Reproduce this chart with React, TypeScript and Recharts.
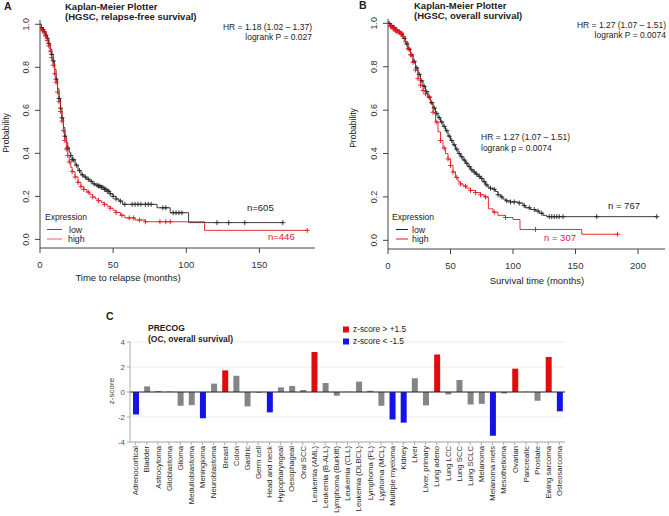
import React from 'react';
import {
  ComposedChart, Line, Scatter, XAxis, YAxis,
  BarChart, Bar, Cell, CartesianGrid, ReferenceLine,
} from 'recharts';

const FONT = '"Liberation Sans", Arial, Helvetica, sans-serif';
const KM_RED = '#e3191f';
const KM_BLACK = '#262626';

// Panel A: relapse-free survival, time (months) / probability
const rfsLowT = [0, 1, 2, 3, 4, 5, 6, 7, 8, 9, 10, 11, 12, 13, 14, 15, 16, 17, 18, 19, 20, 21, 22,
  24, 26, 28, 30, 32, 34, 36, 38, 40, 42, 44, 46, 48, 50, 52, 54, 56.5, 80, 89, 101.6, 166];
const rfsLowS = [1, .985, .975, .965, .95, .935, .91, .885, .86, .83, .79, .745, .70, .655, .61, .565, .52, .48, .45, .425, .405, .39, .37,
  .345, .32, .30, .29, .28, .27, .258, .252, .248, .242, .233, .224, .212, .20, .188, .178, .163, .147, .124, .078, .078];
const rfsLowCensor = [1, 2, 3, 4, 5, 6, 8, 9, 11, 13, 14, 15, 17, 19, 21, 22, 23, 25, 27, 29, 31, 33, 35, 37, 39, 40, 41, 42, 43,
  44, 45, 46, 47, 48, 50, 52, 55, 58, 63, 65, 67, 69, 72, 74, 76, 84, 86, 91, 93, 95, 97, 121, 129, 140, 166];

const rfsHighT = [0, 1, 2, 3, 4, 5, 6, 7, 8, 9, 10, 11, 12, 13, 14, 15, 16, 17, 18, 19, 20, 21, 22,
  24, 26, 28, 30, 32, 34, 36, 38, 40, 42, 44, 46, 48, 50, 52, 55, 58, 65, 72, 112.5, 182.7];
const rfsHighS = [1, .98, .97, .96, .945, .925, .90, .875, .845, .81, .77, .73, .685, .64, .595, .55, .505, .46, .42, .39, .36, .335, .315,
  .29, .265, .245, .232, .22, .208, .197, .188, .18, .172, .163, .154, .145, .135, .125, .112, .10, .09, .082, .042, .042];
const rfsHighCensor = [1, 2, 3, 4, 5, 6, 7, 8, 9, 10, 11, 12, 13, 14, 15, 16, 17, 18, 19, 20, 22, 24, 26, 28, 30, 33, 36, 40,
  44, 48, 52, 56, 61, 64, 68, 72, 82, 86, 89, 182.7];

// Panel B: overall survival
const osLowT = [0, 2, 4, 6, 8, 10, 12, 14, 16, 18, 20, 22, 24, 26, 28, 30, 32, 34, 36, 38, 40, 42, 44, 46, 48, 50, 52, 54, 56, 58,
  60, 62, 64, 66, 68, 70, 72, 74, 76, 78, 80, 82, 84, 86, 88, 90, 92, 94, 98, 104, 108, 110, 114, 118, 121, 124, 127, 215];
const osLowS = [1, .99, .98, .97, .96, .95, .93, .905, .88, .855, .825, .795, .765, .735, .71, .685, .66, .635, .61, .585,
  .565, .545, .525, .505, .48, .46, .44, .42, .40, .385, .37, .355, .34, .325, .315, .305, .295, .285, .27, .255,
  .245, .24, .235, .225, .21, .20, .19, .182, .177, .172, .16, .15, .142, .135, .125, .115, .109, .109];
const osLowCensor = [1, 3, 5, 7, 9, 11, 13, 15, 17, 19, 21, 23, 25, 27, 29, 31, 33, 35, 37, 39, 41, 43, 45, 47, 49, 51, 53, 55,
  57, 59, 61, 63, 65, 67, 69, 71, 73, 75, 77, 79, 82, 85, 88, 91, 95, 98, 101, 105, 109, 113, 117, 120, 123,
  129, 131, 133, 135, 137, 140, 167, 215];

const osHighT = [0, 2, 4, 6, 8, 10, 12, 14, 16, 18, 20, 22, 24, 26, 28, 30, 32, 34, 36, 38, 40, 42, 44, 46, 48, 50, 52, 54, 56, 58,
  60, 63, 66, 70, 74, 77, 80.3, 84, 88, 94, 100, 105.6, 155, 183.7];
const osHighS = [1, .985, .975, .965, .96, .955, .94, .915, .885, .855, .82, .785, .745, .715, .69, .675, .66, .63, .59, .545,
  .50, .46, .425, .40, .375, .345, .315, .29, .27, .26, .25, .24, .23, .22, .21, .20, .145, .13, .115, .105, .096, .05, .028, .028];
const osHighCensor = [2, 3, 4, 5, 6, 7, 8, 9, 10, 11, 12, 14, 16, 18, 20, 22, 24, 26, 28, 30, 33, 36, 39, 42, 45, 48, 50, 52,
  55, 58, 62, 66, 70, 74, 78, 85, 94, 118, 183.7];

// Panel C: PRECOG z-scores
const cancers = ['Adrenocortical', 'Bladder', 'Astrocytoma', 'Glioblastoma', 'Glioma', 'Medulloblastoma', 'Meningioma',
  'Neuroblastoma', 'Breast', 'Colon', 'Gastric', 'Germ cell', 'Head and neck', 'Hypopharyngeal', 'Oesophageal', 'Oral SCC',
  'Leukemia (AML)', 'Leukemia (B-ALL)', 'Lymphoma (Burkitt)', 'Leukemia (CLL)', 'Leukemia (DLBCL)', 'Lymphoma (FL)',
  'Lyphoma (MCL)', 'Multiple myeloma', 'Kidney', 'Liver', 'Liver, primary', 'Lung adeno', 'Lung LCC', 'Lung SCC',
  'Lung SCLC', 'Melanoma', 'Melanoma mets', 'Mesothelioma', 'Ovarian', 'Pancreatic', 'Prostate', 'Ewing sarcoma', 'Osteosarcoma'];
const zScores = [-1.8, 0.45, 0.08, 0.03, -1.1, -1.05, -2.1, 0.67, 1.73, 1.3, -1.15, -0.05, -1.63, 0.37, 0.48, 0.16,
  3.2, 0.72, -0.3, 0.02, 0.83, 0.1, -1.1, -2.2, -2.45, 1.1, -1.07, 3.0, -0.2, 0.96, -1.0, -0.95, -3.5, -0.12, 1.87,
  0.02, -0.7, 2.8, -1.55];

const steps = (t: number[], s: number[]) => t.map((v, i) => ({ t: v, s: s[i] }));
// censor marks sit on the KM curve at their time
const marks = (times: number[], t: number[], s: number[]) => times.map(c => {
  let i = 0;
  while (i + 1 < t.length && t[i + 1] <= c) i++;
  return { t: c, s: s[i] };
});

const cross = (color: string) => (p: any) => (
  <path d={`M${p.cx - 2.5},${p.cy}h5M${p.cx},${p.cy - 2.5}v5`} stroke={color} strokeWidth={0.9} fill="none" />
);

const ProbTick = (p: any) => {
  const x = p.x - 4;
  return (
    <text x={x} y={p.y} transform={`rotate(-90 ${x} ${p.y})`} textAnchor="middle"
      fontSize={9} fill="#333" fontFamily={FONT}>{Number(p.payload.value).toFixed(1)}</text>
  );
};

const CatTick = (p: any) => {
  const x = p.x + 2.7;
  return (
    <text x={x} y={p.y} transform={`rotate(-90 ${x} ${p.y})`} textAnchor="end"
      fontSize={7.7} fill="#2a2a2a" fontFamily={FONT}>{p.payload.value}</text>
  );
};

interface KMProps {
  width: number; height: number; left: number;
  margin: { top: number; right: number; bottom: number; left: number };
  xMax: number; xTicks: number[]; xAxisH: number;
  lowT: number[]; lowS: number[]; lowC: number[];
  highT: number[]; highS: number[]; highC: number[];
}

function KMPanel(k: KMProps) {
  const axis = { stroke: '#444' };
  return (
    <div style={{ position: 'absolute', left: k.left, top: 0 }}>
      <ComposedChart width={k.width} height={k.height} margin={k.margin}>
        <XAxis type="number" dataKey="t" domain={[0, k.xMax]} ticks={k.xTicks} allowDataOverflow
          height={k.xAxisH} axisLine={axis} tickLine={axis} tickSize={5} tickMargin={8}
          tick={{ fill: '#333', fontSize: 9.5, fontFamily: FONT }} />
        <YAxis type="number" dataKey="s" domain={[-0.04, 1.02]} ticks={[0, 0.2, 0.4, 0.6, 0.8, 1]} allowDataOverflow
          width={30} axisLine={axis} tickLine={axis} tickSize={5} tick={<ProbTick />} />
        <Line data={steps(k.lowT, k.lowS)} dataKey="s" type="stepAfter" stroke={KM_BLACK} strokeWidth={0.9}
          dot={false} isAnimationActive={false} />
        <Line data={steps(k.highT, k.highS)} dataKey="s" type="stepAfter" stroke={KM_RED} strokeWidth={0.9}
          dot={false} isAnimationActive={false} />
        <Scatter data={marks(k.lowC, k.lowT, k.lowS)} dataKey="s" shape={cross(KM_BLACK)} isAnimationActive={false} />
        <Scatter data={marks(k.highC, k.highT, k.highS)} dataKey="s" shape={cross(KM_RED)} isAnimationActive={false} />
      </ComposedChart>
    </div>
  );
}

const zColor = (z: number) => (z > 1.5 ? '#e00d0d' : z < -1.5 ? '#1414e8' : '#858585');

export default function App() {
  const zData = cancers.map((name, i) => ({ name, z: zScores[i] }));
  const t = { fontFamily: FONT, fill: '#222' };

  return (
    <div style={{ position: 'absolute', left: 0, top: 0, width: 669, height: 516, background: '#fff', overflow: 'hidden' }}>
      <KMPanel width={335} height={300} left={0} margin={{ top: 20, right: 20, bottom: 0, left: 10 }}
        xMax={188} xTicks={[0, 50, 100, 150]} xAxisH={52}
        lowT={rfsLowT} lowS={rfsLowS} lowC={rfsLowCensor} highT={rfsHighT} highS={rfsHighS} highC={rfsHighCensor} />
      <KMPanel width={334} height={300} left={335} margin={{ top: 19, right: 4, bottom: 0, left: 23 }}
        xMax={221.6} xTicks={[0, 50, 100, 150, 200]} xAxisH={51}
        lowT={osLowT} lowS={osLowS} lowC={osLowCensor} highT={osHighT} highS={osHighS} highC={osHighCensor} />

      <div style={{ position: 'absolute', left: 0, top: 300 }}>
        <BarChart width={669} height={216} data={zData} margin={{ top: 42, right: 104, bottom: 0, left: 100 }}
          barCategoryGap={0}>
          <CartesianGrid vertical={false} stroke="#ececec" />
          <XAxis dataKey="name" interval={0} height={74} tick={<CatTick />} tickSize={3} tickMargin={1}
            axisLine={{ stroke: '#aaa' }} tickLine={{ stroke: '#aaa' }} />
          <YAxis type="number" domain={[-4, 4]} ticks={[-4, -2, 0, 2, 4]} width={30} tickSize={3} tickMargin={2}
            axisLine={{ stroke: '#aaa' }} tickLine={{ stroke: '#aaa' }}
            tick={{ fill: '#555', fontSize: 8, fontFamily: FONT }} />
          <ReferenceLine y={0} stroke="#222" strokeWidth={1} />
          <Bar dataKey="z" barSize={6} isAnimationActive={false}>
            {zData.map((d, i) => <Cell key={i} fill={zColor(d.z)} />)}
          </Bar>
        </BarChart>
      </div>

      <svg width={669} height={516} style={{ position: 'absolute', left: 0, top: 0, pointerEvents: 'none' }}>
        {/* panel A */}
        <text x={4} y={10} fontSize={10.5} fontWeight="bold" {...t}>A</text>
        <text x={65} y={9.5} fontSize={9.5} fontWeight="bold" {...t}>Kaplan-Meier Plotter</text>
        <text x={65} y={19.5} fontSize={9.5} fontWeight="bold" {...t}>(HGSC, relapse-free survival)</text>
        <text x={312} y={30} fontSize={8.5} textAnchor="end" {...t}>HR = 1.18 (1.02 – 1.37)</text>
        <text x={312} y={40} fontSize={8.5} textAnchor="end" {...t}>logrank P = 0.027</text>
        <text x={247} y={211} fontSize={9.5} {...t}>n=605</text>
        <text x={268} y={239.5} fontSize={9.5} fontFamily={FONT} fill={KM_RED}>n=446</text>
        <text x={45} y={219.5} fontSize={8.5} {...t}>Expression</text>
        <line x1={47} x2={62} y1={229.5} y2={229.5} stroke="#555" />
        <text x={69} y={232.5} fontSize={8.8} {...t}>low</text>
        <line x1={47} x2={62} y1={239} y2={239} stroke="#ee6060" />
        <text x={68} y={242} fontSize={8.8} {...t}>high</text>
        <text x={9} y={133} fontSize={8.5} textAnchor="middle" transform="rotate(-90 9 133)" {...t}>Probability</text>
        <text x={128} y={281} fontSize={9.5} textAnchor="middle" {...t}>Time to relapse (months)</text>

        {/* panel B */}
        <text x={359} y={9} fontSize={10.5} fontWeight="bold" {...t}>B</text>
        <text x={414} y={9} fontSize={9.5} fontWeight="bold" {...t}>Kaplan-Meier Plotter</text>
        <text x={414} y={19} fontSize={9.5} fontWeight="bold" {...t}>(HGSC, overall survival)</text>
        <text x={666} y={27.5} fontSize={8.5} textAnchor="end" {...t}>HR = 1.27 (1.07 – 1.51)</text>
        <text x={666} y={38} fontSize={8.5} textAnchor="end" {...t}>logrank P = 0.0074</text>
        <text x={481} y={140} fontSize={8.5} {...t}>HR = 1.27 (1.07 – 1.51)</text>
        <text x={481} y={150.5} fontSize={8.5} {...t}>logrank p = 0.0074</text>
        <text x={608} y={208.5} fontSize={9.5} {...t}>n = 767</text>
        <text x={544} y={241} fontSize={9.5} fontFamily={FONT} fill={KM_RED}>n = 307</text>
        <text x={392} y={219.5} fontSize={8.5} {...t}>Expression</text>
        <line x1={396} x2={408} y1={229.5} y2={229.5} stroke={KM_BLACK} />
        <text x={412} y={232.5} fontSize={8.8} {...t}>low</text>
        <line x1={396} x2={408} y1={239} y2={239} stroke={KM_RED} />
        <text x={412} y={242} fontSize={8.8} {...t}>high</text>
        <text x={356} y={128} fontSize={8.5} textAnchor="middle" transform="rotate(-90 356 128)" {...t}>Probability</text>
        <text x={537} y={284} fontSize={9.5} textAnchor="middle" {...t}>Survival time (months)</text>

        {/* panel C */}
        <text x={106} y={320} fontSize={10.5} fontWeight="bold" {...t}>C</text>
        <text x={148} y={331} fontSize={8.5} fontWeight="bold" {...t}>PRECOG</text>
        <text x={148} y={342} fontSize={8.5} fontWeight="bold" {...t}>(OC, overall survival)</text>
        <rect x={343} y={326.5} width={6} height={6} fill="#e00d0d" />
        <text x={353} y={332} fontSize={8.3} {...t}>z-score &gt; +1.5</text>
        <rect x={343} y={338.5} width={6} height={6} fill="#1414e8" />
        <text x={353} y={344} fontSize={8.3} {...t}>z-score &lt; -1.5</text>
        <text x={114} y={391} fontSize={8} textAnchor="middle" transform="rotate(-90 114 391)" fontFamily={FONT} fill="#444">z-score</text>
      </svg>
    </div>
  );
}
